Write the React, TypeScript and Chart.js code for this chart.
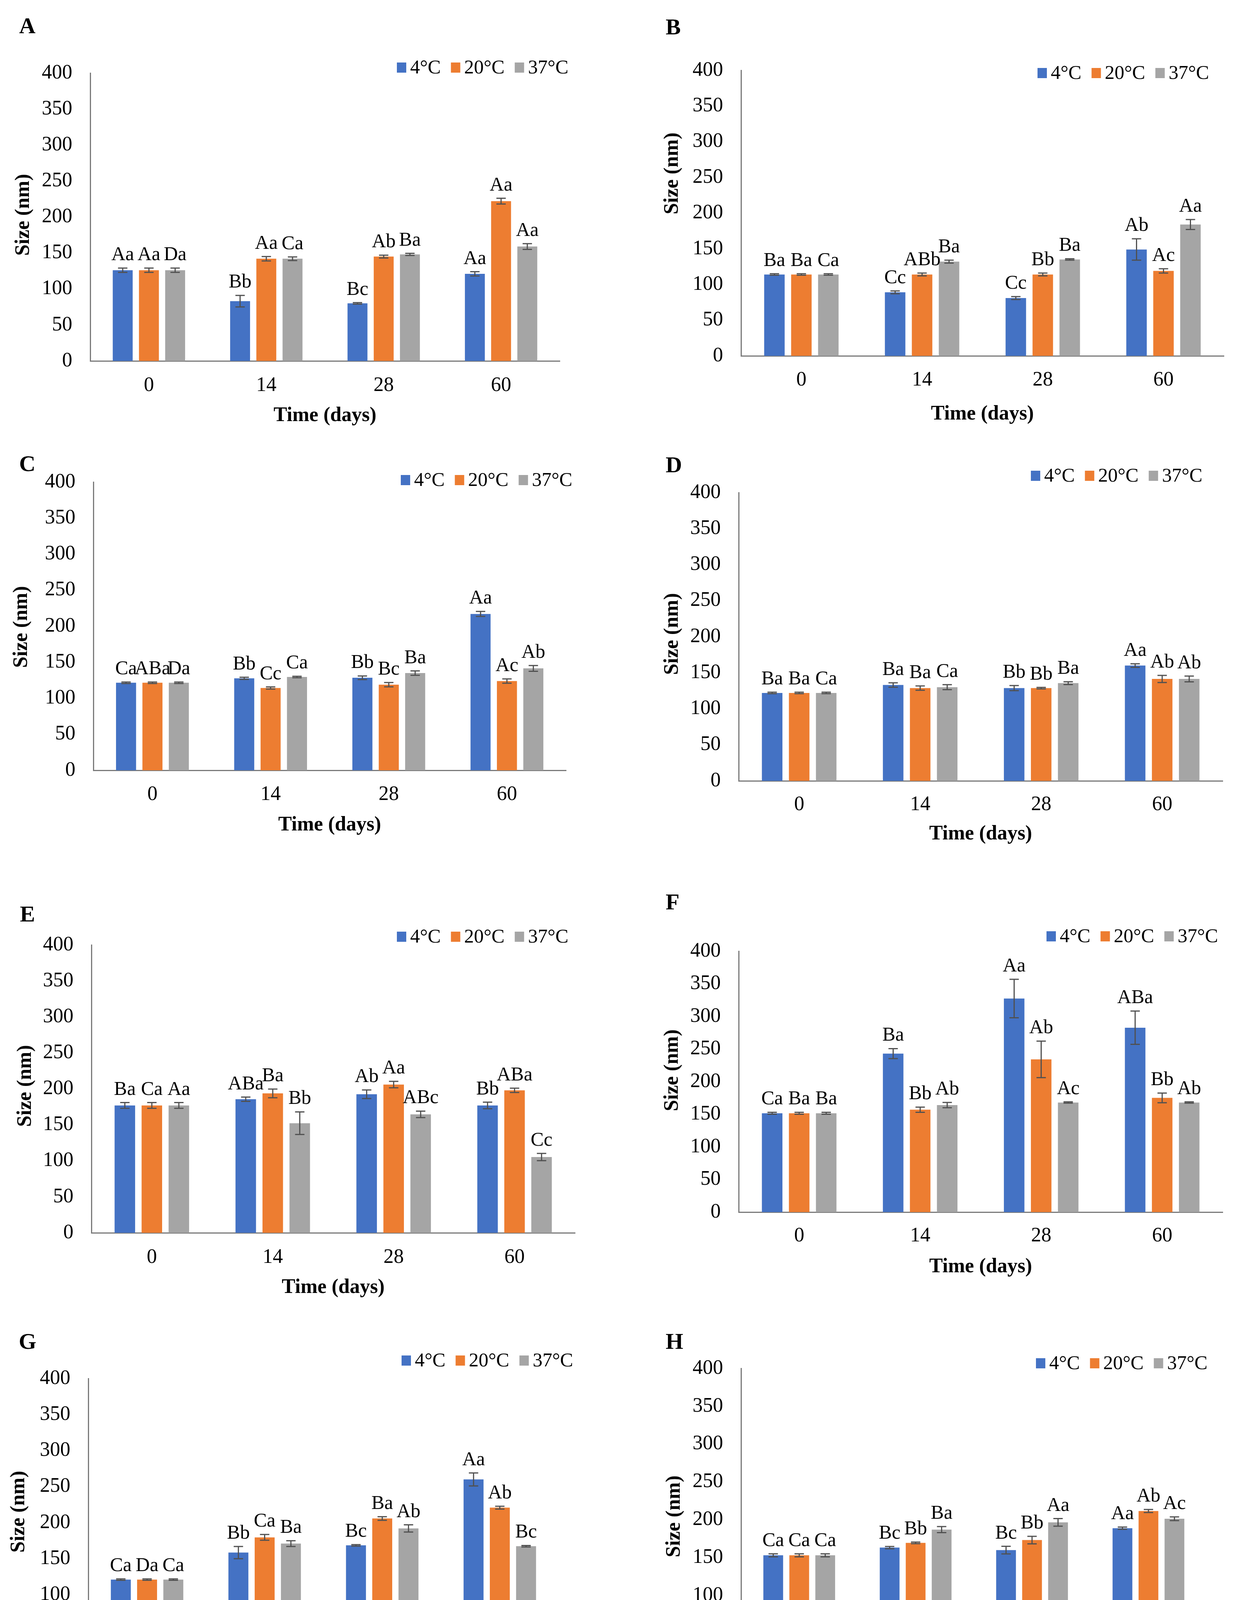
import React, { useEffect, useRef } from 'react';
import { Chart, registerables } from 'chart.js';

Chart.register(...registerables);

// ---------- data ----------
const DAYS = ['0', '14', '28', '60'];
const SERIES = ['4°C', '20°C', '37°C'];
const COLORS = ['#4472C4', '#ED7D31', '#A5A5A5'];
const Y_MIN = 0;
const Y_MAX = 400;
const Y_STEP = 50;
const X_TITLE = 'Time (days)';
const Y_TITLE = 'Size (nm)';

// rows: 4°C, 20°C, 37°C ; columns: days 0, 14, 28, 60
const A_MEANS = [[126, 83, 80, 121], [126, 142, 145, 222], [126, 142, 148, 159]];
const A_ERRS = [[3, 8, 1, 3], [3, 3, 2, 4], [3, 2.5, 1.5, 4]];
const A_LETTERS = [['Aa', 'Bb', 'Bc', 'Aa'], ['Aa', 'Aa', 'Ab', 'Aa'], ['Da', 'Ca', 'Ba', 'Aa']];

const B_MEANS = [[114, 89, 81, 149], [114, 114, 114, 119], [114, 132, 135, 184]];
const B_ERRS = [[1, 2, 2, 15], [1, 2, 2, 3], [1, 2, 1, 7]];
const B_LETTERS = [['Ba', 'Cc', 'Cc', 'Ab'], ['Ba', 'ABb', 'Bb', 'Ac'], ['Ca', 'Ba', 'Ba', 'Aa']];

const C_MEANS = [[121.5, 127.6, 128.4, 217], [121.5, 114.2, 118.8, 123.8], [121.5, 129.5, 134.9, 141.4]];
const C_ERRS = [[1, 1.5, 2.5, 3.5], [1, 1.5, 3, 3], [1, 1, 3, 4]];
const C_LETTERS = [['Ca', 'Bb', 'Bb', 'Aa'], ['ABa', 'Cc', 'Bc', 'Ac'], ['Da', 'Ca', 'Ba', 'Ab']];

const D_MEANS = [[122, 133, 128.7, 160], [122, 128.7, 128.7, 141.4], [122, 130, 135.6, 141.4]];
const D_ERRS = [[1, 3, 3.5, 2.5], [1, 3, 1, 5], [1, 3.5, 2, 4]];
const D_LETTERS = [['Ba', 'Ba', 'Bb', 'Aa'], ['Ba', 'Ba', 'Bb', 'Ab'], ['Ca', 'Ca', 'Ba', 'Ab']];

const E_MEANS = [[177, 185.6, 192.5, 177], [177, 193.7, 206, 198], [177, 152.3, 164.6, 105.3]];
const E_ERRS = [[4, 3, 6, 4.5], [4, 6, 4.5, 3], [4, 15.7, 4.5, 5]];
const E_LETTERS = [['Ba', 'ABa', 'Ab', 'Bb'], ['Ca', 'Ba', 'Aa', 'ABa'], ['Aa', 'Bb', 'ABc', 'Cc']];

const F_MEANS = [[151.5, 243, 327.4, 282.7], [151.5, 157, 234.2, 175.1], [151.5, 164.1, 168, 168]];
const F_ERRS = [[1.5, 7.6, 29.5, 25.5], [1.5, 4, 28, 7.4], [1.5, 4, 1, 1]];
const F_LETTERS = [['Ca', 'Ba', 'Aa', 'ABa'], ['Ba', 'Bb', 'Ab', 'Bb'], ['Ba', 'Ab', 'Ac', 'Ab']];

const G_MEANS = [[121, 158.5, 168.5, 260], [121, 179.6, 205.8, 220.8], [121, 171, 192, 167.3]];
const G_ERRS = [[1, 8.5, 1, 9], [1, 4, 2.5, 2], [1, 4, 5, 1]];
const G_LETTERS = [['Ca', 'Bb', 'Bc', 'Aa'], ['Da', 'Ca', 'Ba', 'Ab'], ['Ca', 'Ba', 'Ab', 'Bc']];

const H_MEANS = [[153, 163.2, 159.9, 188.8], [153, 169.4, 173.1, 211.5], [153, 187, 196.5, 201.3]];
const H_ERRS = [[2, 1.5, 5, 1.5], [2, 1, 5, 2], [2, 4, 5, 2.5]];
const H_LETTERS = [['Ca', 'Bc', 'Bc', 'Aa'], ['Ca', 'Bb', 'Bb', 'Ab'], ['Ca', 'Ba', 'Aa', 'Ac']];

// ---------- layout (page pixels) ----------
type Layout = {
  cx: number; cy: number; cw: number; ch: number;
  axisX: number; yTop: number; y0: number; right: number;
  tickY: number; titleY: number; yTitleX: number; yTitleY: number;
  legendX: number; legendY: number; letterX: number; letterTop: number;
};

const PANELS: { name: string; means: number[][]; errs: number[][]; letters: string[][]; L: Layout }[] = [
  { name: 'A', means: A_MEANS, errs: A_ERRS, letters: A_LETTERS,
    L: { cx: 0, cy: 0, cw: 1580, ch: 1110, axisX: 231, yTop: 187, y0: 924, right: 1433, tickY: 987, titleY: 1065, yTitleX: 61, yTitleY: 550, legendX: 1016, legendY: 173, letterX: 49, letterTop: 46 } },
  { name: 'B', means: B_MEANS, errs: B_ERRS, letters: B_LETTERS,
    L: { cx: 1580, cy: 0, cw: 1579, ch: 1110, axisX: 1897, yTop: 180, y0: 911, right: 3133, tickY: 973, titleY: 1061, yTitleX: 1722, yTitleY: 444, legendX: 2656, legendY: 187, letterX: 1704, letterTop: 49 } },
  { name: 'C', means: C_MEANS, errs: C_ERRS, letters: C_LETTERS,
    L: { cx: 0, cy: 1110, cw: 1580, ch: 1100, axisX: 239, yTop: 1234, y0: 1972, right: 1449, tickY: 2034, titleY: 2113, yTitleX: 56, yTitleY: 1605, legendX: 1026, legendY: 1229, letterX: 49, letterTop: 1167 } },
  { name: 'D', means: D_MEANS, errs: D_ERRS, letters: D_LETTERS,
    L: { cx: 1580, cy: 1110, cw: 1579, ch: 1100, axisX: 1891, yTop: 1261, y0: 1999, right: 3130, tickY: 2060, titleY: 2136, yTitleX: 1722, yTitleY: 1623, legendX: 2639, legendY: 1218, letterX: 1704, letterTop: 1170 } },
  { name: 'E', means: E_MEANS, errs: E_ERRS, letters: E_LETTERS,
    L: { cx: 0, cy: 2230, cw: 1580, ch: 1130, axisX: 234, yTop: 2419, y0: 3156, right: 1472, tickY: 3219, titleY: 3297, yTitleX: 66, yTitleY: 2780, legendX: 1016, legendY: 2398, letterX: 51, letterTop: 2320 } },
  { name: 'F', means: F_MEANS, errs: F_ERRS, letters: F_LETTERS,
    L: { cx: 1580, cy: 2230, cw: 1579, ch: 1130, axisX: 1891, yTop: 2435, y0: 3103, right: 3130, tickY: 3164, titleY: 3244, yTitleX: 1722, yTitleY: 2740, legendX: 2679, legendY: 2397, letterX: 1704, letterTop: 2289 } },
  { name: 'G', means: G_MEANS, errs: G_ERRS, letters: G_LETTERS,
    L: { cx: 0, cy: 3370, cw: 1580, ch: 1087, axisX: 226, yTop: 3529, y0: 4267, right: 1430, tickY: 4331, titleY: 4407, yTitleX: 49, yTitleY: 3870, legendX: 1028, legendY: 3483, letterX: 48, letterTop: 3414 } },
  { name: 'H', means: H_MEANS, errs: H_ERRS, letters: H_LETTERS,
    L: { cx: 1580, cy: 3370, cw: 1579, ch: 1087, axisX: 1897, yTop: 3503, y0: 4278, right: 3089, tickY: 4340, titleY: 4418, yTitleX: 1727, yTitleY: 3882, legendX: 2652, legendY: 3490, letterX: 1704, letterTop: 3414 } },
];

const SERIF = "'Liberation Serif', 'Times New Roman', serif";
const TICK_SIZE = 52;
const TITLE_SIZE = 52;
const LH = 1.2;
const AXIS_COLOR = '#7a7a7a';
const ERR_COLOR = '#505050';

function Panel({ p }: { p: (typeof PANELS)[number] }) {
  const ref = useRef<HTMLCanvasElement | null>(null);
  const L = p.L;
  useEffect(() => {
    const canvas = ref.current;
    if (!canvas) return;
    const overlay = {
      id: 'overlay' + p.name,
      afterDatasetsDraw(chart: any) {
        const ctx = chart.ctx as CanvasRenderingContext2D;
        const ys = chart.scales.y;
        ctx.save();
        // error bars + letters
        p.means.forEach((series, i) => {
          const meta = chart.getDatasetMeta(i);
          meta.data.forEach((bar: any, j: number) => {
            const v = series[j];
            const e = p.errs[i][j];
            const top = ys.getPixelForValue(v + e);
            const bot = ys.getPixelForValue(v - e);
            ctx.strokeStyle = ERR_COLOR;
            ctx.lineWidth = 3;
            ctx.beginPath();
            ctx.moveTo(bar.x, top); ctx.lineTo(bar.x, bot);
            ctx.moveTo(bar.x - 12, top); ctx.lineTo(bar.x + 12, top);
            ctx.moveTo(bar.x - 12, bot); ctx.lineTo(bar.x + 12, bot);
            ctx.stroke();
            ctx.fillStyle = '#000';
            ctx.font = `50px ${SERIF}`;
            ctx.textAlign = 'center';
            ctx.textBaseline = 'alphabetic';
            ctx.fillText(p.letters[i][j], bar.x, top - 20);
          });
        });
        // y-axis title
        ctx.save();
        ctx.translate(L.yTitleX - L.cx, L.yTitleY - L.cy);
        ctx.rotate(-Math.PI / 2);
        ctx.font = `bold ${TITLE_SIZE}px ${SERIF}`;
        ctx.textAlign = 'center';
        ctx.textBaseline = 'middle';
        ctx.fillStyle = '#000';
        ctx.fillText(Y_TITLE, 0, 0);
        ctx.restore();
        // legend
        ctx.font = `50px ${SERIF}`;
        ctx.textBaseline = 'middle';
        ctx.textAlign = 'left';
        let x = L.legendX - L.cx;
        const ly = L.legendY - L.cy;
        SERIES.forEach((s, i) => {
          ctx.fillStyle = COLORS[i];
          ctx.fillRect(x, ly - 13, 24, 26);
          x += 24 + 10;
          ctx.fillStyle = '#000';
          ctx.fillText(s, x, ly + 2);
          x += ctx.measureText(s).width + 26;
        });
        // panel letter
        ctx.font = `bold 58px ${SERIF}`;
        ctx.textBaseline = 'alphabetic';
        ctx.fillStyle = '#000';
        ctx.fillText(p.name, L.letterX - L.cx, L.letterTop - L.cy + 39);
        ctx.restore();
      },
    };
    const chart = new Chart(canvas, {
      type: 'bar',
      data: {
        labels: DAYS,
        datasets: SERIES.map((s, i) => ({
          label: s,
          data: p.means[i],
          backgroundColor: COLORS[i],
          borderWidth: 0,
          barPercentage: 0.76,
          categoryPercentage: 0.67,
        })),
      },
      options: {
        animation: false,
        responsive: false,
        devicePixelRatio: 1,
        layout: {
          padding: { left: 0, top: L.yTop - L.cy, right: L.cx + L.cw - L.right, bottom: 0 },
        },
        plugins: { legend: { display: false }, tooltip: { enabled: false }, title: { display: false } },
        scales: {
          x: {
            grid: { display: false, drawTicks: false },
            border: { display: true, color: AXIS_COLOR, width: 3 },
            ticks: {
              color: '#000',
              font: { family: SERIF, size: TICK_SIZE },
              padding: L.tickY - L.y0 - (TICK_SIZE * LH) / 2,
              maxRotation: 0,
            },
            title: {
              display: true,
              text: X_TITLE,
              color: '#000',
              font: { family: SERIF, size: TITLE_SIZE, weight: 'bold' },
              padding: { top: 0, bottom: L.cy + L.ch - L.titleY - (TITLE_SIZE * LH) / 2 },
            },
            afterFit: (scale: any) => { scale.height = L.cy + L.ch - L.y0; },
          },
          y: {
            min: Y_MIN,
            max: Y_MAX,
            grid: { display: false, drawTicks: false },
            border: { display: true, color: AXIS_COLOR, width: 3 },
            ticks: {
              stepSize: Y_STEP,
              color: '#000',
              font: { family: SERIF, size: TICK_SIZE },
              padding: 46,
            },
            title: { display: false, text: Y_TITLE },
            afterFit: (scale: any) => { scale.width = L.axisX - L.cx; },
          },
        },
      } as any,
      plugins: [overlay],
    });
    return () => chart.destroy();
  }, []);
  return (
    <canvas
      ref={ref}
      width={L.cw}
      height={L.ch}
      style={{ position: 'absolute', left: L.cx, top: L.cy, width: L.cw, height: L.ch }}
    />
  );
}

export default function App() {
  return (
    <div style={{ position: 'absolute', left: 0, top: 0, width: 3159, height: 4457, background: '#fff', overflow: 'hidden' }}>
      {PANELS.map((p) => (
        <Panel key={p.name} p={p} />
      ))}
    </div>
  );
}
